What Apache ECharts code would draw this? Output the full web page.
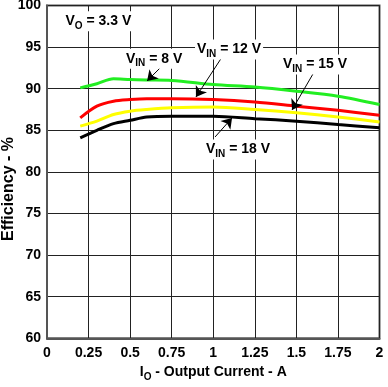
<!DOCTYPE html>
<html><head><meta charset="utf-8">
<script src="https://cdn.jsdelivr.net/npm/echarts@6/dist/echarts.min.js"></script>
<style>html,body{margin:0;padding:0;background:#fff}#c{width:388px;height:387px}</style>
</head><body><div id="c"></div>
<script>
const current = [0.2, 0.3, 0.4, 0.5, 0.6, 0.75, 1, 1.25, 1.5, 1.75, 2];
const eff8V  = [90.1, 90.6, 91.2, 91.1, 91.05, 91.0, 90.5, 90.2, 89.7, 89.1, 88.1];
const eff12V = [86.5, 87.9, 88.5, 88.7, 88.8, 88.8, 88.7, 88.4, 87.9, 87.4, 86.8];
const eff15V = [85.5, 86.1, 86.9, 87.3, 87.5, 87.7, 87.8, 87.5, 87.1, 86.6, 86.0];
const eff18V = [84.1, 85.0, 85.8, 86.2, 86.6, 86.7, 86.7, 86.4, 86.1, 85.7, 85.3];
const seriesNames = ['8 V', '12 V', '15 V', '18 V'];
const seriesColors = ['#22ee22', '#ff0000', '#ffff00', '#000000'];
// annotation positions in data space
const labelPos = [[0.644, 93.6], [1.095, 94.7], [1.612, 92.9], [1.149, 82.7]];
const arrows = [[[0.704, 92.97], [0.602, 90.93]], [[1.053, 93.81], [0.896, 89.0]], [[1.624, 92.6], [1.474, 87.45]], [[1.011, 84.2], [1.113, 86.49]]];
const voutLabel = [0.096, 98.1];
const yAxisTitle = 'Efficiency - %';

const FONT = '"Liberation Sans", Arial, sans-serif';
const rich = {
  m: {fontFamily: FONT, fontWeight: 'bold', fontSize: 14, color: '#000', lineHeight: 20},
  s: {fontFamily: FONT, fontWeight: 'bold', fontSize: 10, color: '#000', lineHeight: 10, verticalAlign: 'bottom'}
};
const all = [eff8V, eff12V, eff15V, eff18V];
const series = all.map((d, i) => ({
  name: seriesNames[i], type: 'line', smooth: 0.3, symbol: 'none',
  lineStyle: {color: seriesColors[i], width: 3},
  data: current.map((x, k) => [x, d[k]]),
  z: 3,
  markLine: {
    silent: true, symbol: ['none', 'arrow'], symbolSize: 10,
    lineStyle: {color: '#000', width: 1, type: 'solid'}, itemStyle: {color: '#000'}, label: {show: false},
    data: [[{coord: arrows[i][0]}, {coord: arrows[i][1]}]], z: 5
  },
  markPoint: {
    silent: true, symbol: 'rect', symbolSize: 1, itemStyle: {color: 'rgba(0,0,0,0)'},
    data: [{coord: labelPos[i], label: {show: true, position: 'inside',
      formatter: '{m|V}{s|IN}{m| = ' + seriesNames[i] + '}', rich: rich,
      backgroundColor: '#fff', padding: [0, 2, 0, 2]}}], z: 6
  }
}));
series.push({
  type: 'scatter', data: [], markPoint: {
    silent: true, symbol: 'rect', symbolSize: 1, itemStyle: {color: 'rgba(0,0,0,0)'},
    data: [{coord: voutLabel, label: {show: true, position: 'right', distance: 0,
      formatter: '{m|V}{s|O}{m| = 3.3 V}', rich: rich, backgroundColor: '#fff', padding: [0, 2, 0, 2]}}]
  }
});

const chart = echarts.init(document.getElementById('c'), null, {renderer: 'canvas'});
chart.setOption({
  animation: false,
  grid: {left: 47, right: 8.5, top: 5.5, bottom: 48.7, containLabel: false, outerBoundsMode: 'none',
    show: true, borderColor: '#555', borderWidth: 2},
  graphic: [{
    type: 'text', x: 9, y: 189, rotation: Math.PI / 2,
    style: {text: yAxisTitle, fontFamily: FONT, fontWeight: 'bold', fontSize: 16, fill: '#000',
      align: 'center', verticalAlign: 'middle'}
  }],
  xAxis: {
    type: 'value', min: 0, max: 2, interval: 0.25,
    name: '{m|I}{s|O}{m| - Output Current - A}', nameLocation: 'middle', nameGap: 22,
    nameTextStyle: {rich: rich},
    axisLine: {show: true, lineStyle: {color: '#555', width: 2}},
    axisTick: {show: false},
    axisLabel: {fontFamily: FONT, fontWeight: 'bold', fontSize: 14, color: '#000', margin: 8},
    splitLine: {show: true, lineStyle: {color: '#222', width: 1}}
  },
  yAxis: {
    type: 'value', min: 60, max: 100, interval: 5,
    axisLine: {show: true, lineStyle: {color: '#555', width: 2}},
    axisTick: {show: false},
    axisLabel: {fontFamily: FONT, fontWeight: 'bold', fontSize: 14, color: '#000', margin: 6},
    splitLine: {show: true, lineStyle: {color: '#222', width: 1}}
  },
  series: series
});
</script></body></html>
